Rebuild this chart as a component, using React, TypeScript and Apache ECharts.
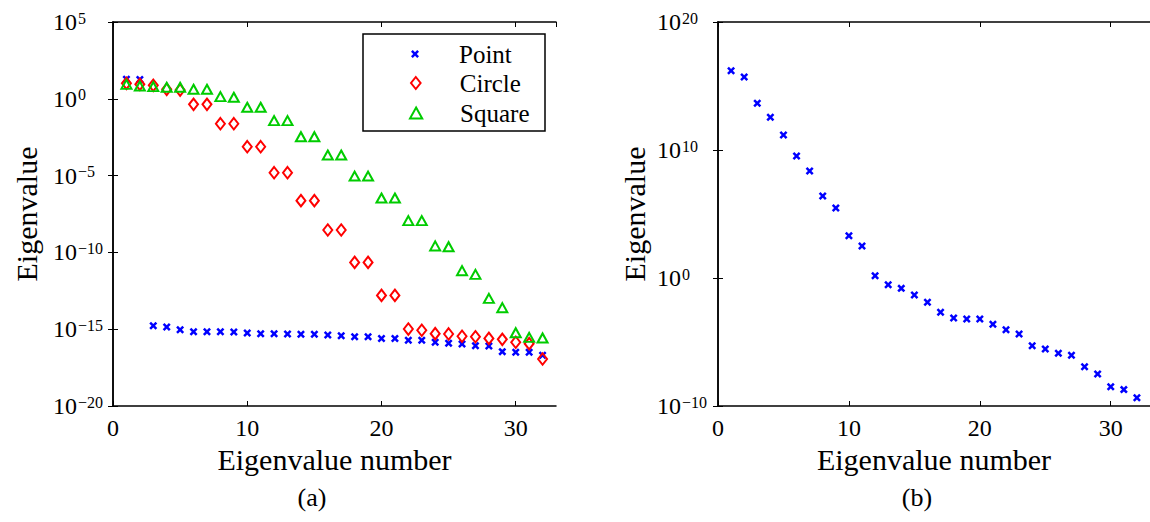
import React, { useEffect, useRef } from "react";
import * as echarts from "echarts";

const FONT = "'Liberation Serif', 'DejaVu Serif', serif";

// Eigenvalue numbers (x)
const eigenNumbers = [1, 2, 3, 4, 5, 6, 7, 8, 9, 10, 11, 12, 13, 14, 15, 16, 17, 18, 19, 20, 21, 22, 23, 24, 25, 26, 27, 28, 29, 30, 31, 32];

// (a) log10 of eigenvalues
const pointLog10 = [1.27, 1.25, -14.77, -14.86, -15.03, -15.16, -15.16, -15.16, -15.18, -15.25, -15.29, -15.29, -15.31, -15.33, -15.33, -15.38, -15.42, -15.49, -15.49, -15.6, -15.6, -15.72, -15.72, -15.85, -15.92, -15.96, -16.07, -16.09, -16.46, -16.5, -16.5, -16.7];
const circleLog10 = [1.01, 0.94, 0.88, 0.62, 0.57, -0.36, -0.36, -1.62, -1.62, -3.12, -3.12, -4.81, -4.81, -6.63, -6.63, -8.54, -8.54, -10.65, -10.65, -12.8, -12.8, -14.99, -15.07, -15.29, -15.31, -15.46, -15.49, -15.6, -15.66, -15.85, -15.94, -16.94];
const squareLog10 = [0.94, 0.83, 0.79, 0.75, 0.75, 0.62, 0.62, 0.14, 0.1, -0.55, -0.55, -1.42, -1.42, -2.47, -2.47, -3.66, -3.66, -5.03, -5.03, -6.46, -6.46, -7.93, -7.93, -9.58, -9.63, -11.19, -11.43, -12.99, -13.6, -15.23, -15.53, -15.57];

// (b) log10 of eigenvalues
const rightLog10 = [16.2, 15.7, 13.65, 12.55, 11.17, 9.53, 8.36, 6.41, 5.47, 3.3, 2.5, 0.18, -0.52, -0.81, -1.33, -1.9, -2.68, -3.13, -3.2, -3.2, -3.62, -4.04, -4.38, -5.29, -5.55, -5.88, -6.04, -6.93, -7.5, -8.49, -8.72, -9.35];

const legendNames = ["Point", "Circle", "Square"];
const captions = ["(a)", "(b)"];
const xAxisName = "Eigenvalue number";
const yAxisName = "Eigenvalue";

const BLUE = "#0000ff";
const RED = "#ff0000";
const GREEN = "#00cc00";

const CROSS = "path://M0,2.2 L2.2,0 L5,2.8 L7.8,0 L10,2.2 L7.2,5 L10,7.8 L7.8,10 L5,7.2 L2.2,10 L0,7.8 L2.8,5 Z";
const DIAMOND = "path://M4,0 L8,5 L4,10 L0,5 Z";
const TRIANGLE = "path://M5,0 L10,9 L0,9 Z";

const toPairs = (logs: number[]) => eigenNumbers.map((x, i) => [x, Math.pow(10, logs[i])]);

const logLabel = (v: number) => {
  const e = Math.round(Math.log10(v));
  return `{b|10}{s|${e < 0 ? "\u2212" : ""}${Math.abs(e)}}`;
};

const rich = {
  b: { fontFamily: FONT, fontSize: 24, color: "#000", lineHeight: 24, padding: [7, 0, 7, 0] },
  s: { fontFamily: FONT, fontSize: 16, color: "#000", lineHeight: 16, verticalAlign: "top", padding: [0, 0, 0, 1] },
};

function mainX(grid: number) {
  return {
    gridIndex: grid,
    type: "value",
    min: 0,
    max: 33,
    interval: 10,
    position: "bottom",
    axisLine: { onZero: false, lineStyle: { color: "#000", width: 1.5 } },
    axisTick: { inside: true, length: 5, lineStyle: { color: "#000", width: 1 } },
    axisLabel: {
      color: "#000",
      fontFamily: FONT,
      fontSize: 24,
      margin: 10,
      showMaxLabel: false,
      formatter: (v: number) => (v % 10 === 0 ? String(v) : ""),
    },
    splitLine: { show: false },
    name: xAxisName,
    nameLocation: "middle",
    nameGap: 38,
    nameTextStyle: { fontFamily: FONT, fontSize: 30, color: "#000" },
  };
}

function mirrorX(grid: number) {
  return {
    gridIndex: grid,
    type: "value",
    min: 0,
    max: 33,
    interval: 10,
    position: "top",
    axisLine: { onZero: false, lineStyle: { color: "#000", width: 1.5 } },
    axisTick: { inside: true, length: 5, lineStyle: { color: "#000", width: 1 } },
    axisLabel: { show: false },
    splitLine: { show: false },
  };
}

function mainY(grid: number, min: number, max: number, interval: number, margin: number, nameGap: number) {
  return {
    gridIndex: grid,
    type: "log",
    logBase: 10,
    min,
    max,
    interval,
    position: "left",
    axisLine: { lineStyle: { color: "#000", width: 1.5 } },
    axisTick: { inside: true, length: 5, lineStyle: { color: "#000", width: 1 } },
    minorTick: { show: false },
    axisLabel: { formatter: logLabel, rich, align: "left", margin },
    splitLine: { show: false },
    name: yAxisName,
    nameLocation: "middle",
    nameGap,
    nameTextStyle: { fontFamily: FONT, fontSize: 30, color: "#000" },
  };
}

function mirrorY(grid: number, min: number, max: number, interval: number) {
  return {
    gridIndex: grid,
    type: "log",
    logBase: 10,
    min,
    max,
    interval,
    position: "right",
    axisLine: { lineStyle: { color: "#000", width: 1.5 } },
    axisTick: { inside: true, length: 5, lineStyle: { color: "#000", width: 1 } },
    minorTick: { show: false },
    axisLabel: { show: false },
    splitLine: { show: false },
  };
}

// the legend box is laid out from the icon's left edge, so left = icon centre - icon width / 2
function legendFor(name: string, left: number, top: number, itemHeight: number) {
  return {
    data: [name],
    left,
    top,
    padding: 0,
    itemGap: 0,
    itemWidth: 78,
    itemHeight,
    selectedMode: false,
    z: 10,
    textStyle: { fontFamily: FONT, fontSize: 25, color: "#000", lineHeight: 25 },
  };
}

export default function App() {
  const ref = useRef<HTMLDivElement>(null);

  useEffect(() => {
    if (!ref.current) return;
    const chart = echarts.init(ref.current, undefined, { renderer: "svg" });
    chart.setOption({
      animation: false,
      backgroundColor: "#fff",
      grid: [
        { left: 113, top: 22, width: 443, height: 384 },
        { left: 718, top: 22, width: 437, height: 384 },
      ],
      xAxis: [mainX(0), mirrorX(0), mainX(1), mirrorX(1)],
      yAxis: [
        mainY(0, 1e-20, 1e5, 5, 60, 72),
        mirrorY(0, 1e-20, 1e5, 5),
        mainY(1, 1e-10, 1e20, 10, 61, 69),
        mirrorY(1, 1e-10, 1e20, 10),
      ],
      legend: [
        legendFor(legendNames[0], 411, 41.5, 8),
        legendFor(legendNames[1], 410, 70.5, 12),
        legendFor(legendNames[2], 409, 100.5, 11),
      ],
      graphic: [
        {
          type: "rect",
          x: 363,
          y: 34,
          z: 5,
          shape: { x: 0, y: 0, width: 182, height: 97 },
          style: { fill: "#fff", stroke: "#000", lineWidth: 1.5 },
        },
        {
          type: "text",
          x: 312,
          y: 497,
          style: { text: captions[0], fontFamily: FONT, fontSize: 26, fill: "#000", align: "center", verticalAlign: "middle" },
        },
        {
          type: "text",
          x: 917,
          y: 497,
          style: { text: captions[1], fontFamily: FONT, fontSize: 26, fill: "#000", align: "center", verticalAlign: "middle" },
        },
      ],
      series: [
        {
          name: legendNames[0],
          type: "scatter",
          xAxisIndex: 0,
          yAxisIndex: 0,
          symbol: CROSS,
          symbolSize: 8,
          itemStyle: { color: BLUE, opacity: 1 },
          data: toPairs(pointLog10),
        },
        {
          name: legendNames[1],
          type: "scatter",
          xAxisIndex: 0,
          yAxisIndex: 0,
          symbol: DIAMOND,
          symbolSize: [9, 11.5],
          itemStyle: { color: "rgba(0,0,0,0)", borderColor: RED, borderWidth: 2, opacity: 1 },
          data: toPairs(circleLog10),
        },
        {
          name: legendNames[2],
          type: "scatter",
          xAxisIndex: 0,
          yAxisIndex: 0,
          symbol: TRIANGLE,
          symbolSize: [10, 9],
          itemStyle: { color: "rgba(0,0,0,0)", borderColor: GREEN, borderWidth: 2, opacity: 1 },
          data: toPairs(squareLog10),
        },
        {
          name: "b",
          type: "scatter",
          xAxisIndex: 2,
          yAxisIndex: 2,
          symbol: CROSS,
          symbolSize: 8,
          itemStyle: { color: BLUE, opacity: 1 },
          data: toPairs(rightLog10),
        },
      ],
    });
    return () => chart.dispose();
  }, []);

  return <div ref={ref} style={{ position: "absolute", left: 0, top: 0, width: 1150, height: 522 }} />;
}
